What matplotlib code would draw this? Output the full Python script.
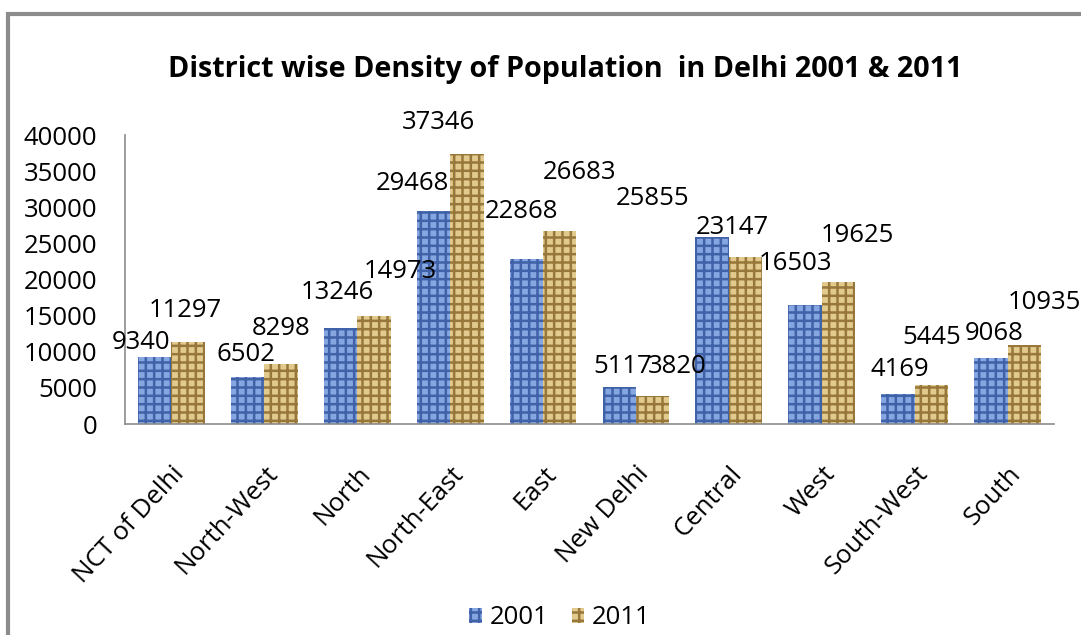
import numpy as np
import matplotlib
matplotlib.use("Agg")
import matplotlib.pyplot as plt
from matplotlib.patches import Rectangle

# data
districts = ['NCT of Delhi', 'North-West', 'North', 'North-East', 'East',
             'New Delhi', 'Central', 'West', 'South-West', 'South']
dens_2001 = [9340, 6502, 13246, 29468, 22868, 5117, 25855, 16503, 4169, 9068]
dens_2011 = [11297, 8298, 14973, 37346, 26683, 3820, 23147, 19625, 5445, 10935]
yticks = [0, 5000, 10000, 15000, 20000, 25000, 30000, 35000, 40000]

# where the data labels sit relative to the top of their bar (pixels)
lab_dx_2001 = [-14, -2, -3, -21, -5, 3, -60, -10, 2, 3]
lab_dy_2001 = [14, 23, 36, 28, 47, 21, 39, 41, 24, 25]
lab_dx_2011 = [-3, 0, 26, -28, 20, 25, -13, 19, 0, 20]
lab_dy_2011 = [32, 36, 44, 32, 59, 30, 29, 47, 47, 42]

plt.rcParams['font.family'] = ['Open Sans', 'DejaVu Sans']
plt.rcParams['hatch.linewidth'] = 1.8

fig = plt.figure(figsize=(10.81, 6.35), dpi=100)
ax = fig.add_axes([125/1081, 1-424/635, 929/1081, 289/635])

# grey chart frame (runs off the right and bottom of the picture)
fig.patches.append(Rectangle((8/1081, -0.1), 1.2, 1-14/635+0.1, transform=fig.transFigure,
                             fill=False, edgecolor='#8c8c8c', linewidth=3))

x = np.arange(len(districts))
w = 0.36
b1 = ax.bar(x - w/2, dens_2001, w, color='#85a6e0', edgecolor='#3f62a8',
            hatch='++', linewidth=0, label='2001')
b2 = ax.bar(x + w/2, dens_2011, w, color='#e2c98e', edgecolor='#98783a',
            hatch='++', linewidth=0, label='2011')

for bars, vals, dxs, dys in ((b1, dens_2001, lab_dx_2001, lab_dy_2001),
                             (b2, dens_2011, lab_dx_2011, lab_dy_2011)):
    for r, v, dx, dy in zip(bars, vals, dxs, dys):
        ax.annotate(str(v), (r.get_x() + r.get_width()/2, v), xytext=(dx, dy),
                    textcoords='offset pixels', ha='center', va='center', fontsize=18.5,
                    annotation_clip=False)

ax.set_xlim(-0.5, len(districts) - 0.5)
ax.set_ylim(0, 40000)
ax.set_yticks(yticks)
ax.set_yticklabels([str(t) for t in yticks], fontsize=18.5)
ax.set_xticks(x)
ax.set_xticklabels(districts, rotation=47, ha='right', rotation_mode='anchor', fontsize=18.5)
ax.tick_params(axis='y', length=0, pad=20)
ax.tick_params(axis='x', length=0, pad=27)
for s in ('top', 'right'):
    ax.spines[s].set_visible(False)
for s in ('left', 'bottom'):
    ax.spines[s].set_color('#8c8c8c')
    ax.spines[s].set_linewidth(1.2)

fig.text(0.523, 1-70/635, 'District wise Density of Population  in Delhi 2001 & 2011',
         ha='center', va='center', fontsize=20.7, fontweight='bold')

fig.legend(handles=[b1, b2], loc='center', bbox_to_anchor=(560/1081, 1-618/635), ncol=2,
           frameon=False, fontsize=18.5, handlelength=0.5, handleheight=0.5,
           handletextpad=0.3, columnspacing=0.9)

fig.savefig('out.png', dpi=100)
